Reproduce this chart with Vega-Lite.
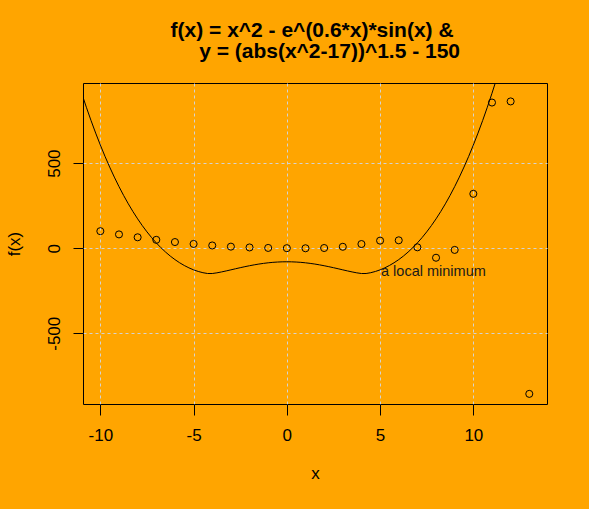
{
  "$schema": "https://vega.github.io/schema/vega-lite/v6.json",
  "width": 464,
  "height": 321,
  "autosize": {"type": "none"},
  "padding": {"left": 83, "top": 83, "right": 42, "bottom": 105},
  "background": "#FFA500",
  "title": {
    "text": ["f(x) = x^2 - e^(0.6*x)*sin(x) &\u00a0\u200b", "\u200b\u00a0\u00a0\u00a0\u00a0\u00a0y = (abs(x^2-17))^1.5 - 150"],
    "font": "Liberation Sans",
    "fontSize": 21,
    "fontWeight": "bold",
    "color": "black",
    "anchor": "middle",
    "frame": "group",
    "lineHeight": 21.5,
    "offset": 21
  },
  "datasets": {
    "pts": [
      {"x": -10, "y": 100.0}, {"x": -9, "y": 81.0}, {"x": -8, "y": 64.01}, {"x": -7, "y": 49.01},
      {"x": -6, "y": 35.99}, {"x": -5, "y": 24.95}, {"x": -4, "y": 15.93}, {"x": -3, "y": 9.02},
      {"x": -2, "y": 4.27}, {"x": -1, "y": 1.46}, {"x": 0, "y": 0}, {"x": 1, "y": -0.53},
      {"x": 2, "y": 0.98}, {"x": 3, "y": 8.15}, {"x": 4, "y": 24.34}, {"x": 5, "y": 44.26},
      {"x": 6, "y": 46.23}, {"x": 7, "y": 5.19}, {"x": 8, "y": -56.22}, {"x": 9, "y": -10.25},
      {"x": 10, "y": 319.47}, {"x": 11, "y": 856.09}, {"x": 12, "y": 862.7}, {"x": 13, "y": -856.46}
    ],
    "crv": [
      {"x": -11, "y": 910.6}, {"x": -10.75, "y": 828.52}, {"x": -10.5, "y": 750.48}, {"x": -10.25, "y": 676.39},
      {"x": -10, "y": 606.17}, {"x": -9.75, "y": 539.7}, {"x": -9.5, "y": 476.92}, {"x": -9.25, "y": 417.72},
      {"x": -9, "y": 362}, {"x": -8.75, "y": 309.69}, {"x": -8.5, "y": 260.68}, {"x": -8.25, "y": 214.89},
      {"x": -8, "y": 172.22}, {"x": -7.75, "y": 132.59}, {"x": -7.5, "y": 95.9}, {"x": -7.25, "y": 62.08},
      {"x": -7, "y": 31.02}, {"x": -6.75, "y": 2.65}, {"x": -6.5, "y": -23.12}, {"x": -6.25, "y": -46.37},
      {"x": -6, "y": -67.18}, {"x": -5.75, "y": -85.62}, {"x": -5.5, "y": -101.77}, {"x": -5.25, "y": -115.67},
      {"x": -5, "y": -127.37}, {"x": -4.75, "y": -136.88}, {"x": -4.5, "y": -144.14}, {"x": -4.25, "y": -148.9},
      {"x": -4, "y": -149}, {"x": -3.75, "y": -144.97}, {"x": -3.5, "y": -139.65}, {"x": -3.25, "y": -133.67},
      {"x": -3, "y": -127.37}, {"x": -2.75, "y": -121.01}, {"x": -2.5, "y": -114.75}, {"x": -2.25, "y": -108.75},
      {"x": -2, "y": -103.13}, {"x": -1.75, "y": -97.97}, {"x": -1.5, "y": -93.35}, {"x": -1.25, "y": -89.35},
      {"x": -1, "y": -86}, {"x": -0.75, "y": -83.36}, {"x": -0.5, "y": -81.45}, {"x": -0.25, "y": -80.29},
      {"x": 0, "y": -79.91}, {"x": 0.25, "y": -80.29}, {"x": 0.5, "y": -81.45}, {"x": 0.75, "y": -83.36},
      {"x": 1, "y": -86}, {"x": 1.25, "y": -89.35}, {"x": 1.5, "y": -93.35}, {"x": 1.75, "y": -97.97},
      {"x": 2, "y": -103.13}, {"x": 2.25, "y": -108.75}, {"x": 2.5, "y": -114.75}, {"x": 2.75, "y": -121.01},
      {"x": 3, "y": -127.37}, {"x": 3.25, "y": -133.67}, {"x": 3.5, "y": -139.65}, {"x": 3.75, "y": -144.97},
      {"x": 4, "y": -149}, {"x": 4.25, "y": -148.9}, {"x": 4.5, "y": -144.14}, {"x": 4.75, "y": -136.88},
      {"x": 5, "y": -127.37}, {"x": 5.25, "y": -115.67}, {"x": 5.5, "y": -101.77}, {"x": 5.75, "y": -85.62},
      {"x": 6, "y": -67.18}, {"x": 6.25, "y": -46.37}, {"x": 6.5, "y": -23.12}, {"x": 6.75, "y": 2.65},
      {"x": 7, "y": 31.02}, {"x": 7.25, "y": 62.08}, {"x": 7.5, "y": 95.9}, {"x": 7.75, "y": 132.59},
      {"x": 8, "y": 172.22}, {"x": 8.25, "y": 214.89}, {"x": 8.5, "y": 260.68}, {"x": 8.75, "y": 309.69},
      {"x": 9, "y": 362}, {"x": 9.25, "y": 417.72}, {"x": 9.5, "y": 476.92}, {"x": 9.75, "y": 539.7},
      {"x": 10, "y": 606.17}, {"x": 10.25, "y": 676.39}, {"x": 10.5, "y": 750.48}, {"x": 10.75, "y": 828.52},
      {"x": 11, "y": 910.6}, {"x": 11.25, "y": 996.82}, {"x": 11.5, "y": 1087.26}
    ],
    "ann": [{"x": 5.05, "y": -161, "label": "a local minimum"}]
  },
  "layer": [
    {
      "data": {"name": "crv"},
      "mark": {"type": "line", "color": "black", "strokeWidth": 1, "clip": true},
      "encoding": {
        "x": {"field": "x", "type": "quantitative", "scale": {"domain": [-10.93, 13.95], "nice": false, "zero": false},
          "axis": {"values": [-10, -5, 0, 5, 10], "title": "x", "tickSize": 11, "labelPadding": 12, "titlePadding": 22, "labelExpr": "'' + datum.value"}},
        "y": {"field": "y", "type": "quantitative", "scale": {"domain": [-916, 971], "nice": false, "zero": false},
          "axis": {"values": [-500, 0, 500], "title": "f(x)", "tickSize": 10, "labelAngle": -90, "labelAlign": "center", "labelBaseline": "bottom", "labelPadding": 10, "titlePadding": 22, "labelExpr": "'' + datum.value"}}
      }
    },
    {
      "data": {"name": "pts"},
      "mark": {"type": "point", "shape": "circle", "filled": false, "color": "black", "strokeWidth": 1, "size": 50, "opacity": 1},
      "encoding": {
        "x": {"field": "x", "type": "quantitative"},
        "y": {"field": "y", "type": "quantitative"}
      }
    },
    {
      "data": {"name": "ann"},
      "mark": {"type": "text", "align": "left", "baseline": "alphabetic", "font": "Liberation Sans", "fontSize": 14.5, "color": "#1a1a1a"},
      "encoding": {
        "x": {"field": "x", "type": "quantitative"},
        "y": {"field": "y", "type": "quantitative"},
        "text": {"field": "label"}
      }
    }
  ],
  "config": {
    "view": {"stroke": "black", "strokeWidth": 1},
    "axis": {
      "domain": false,
      "grid": true,
      "gridColor": "#d3d3d3",
      "gridDash": [3, 3],
      "gridWidth": 1,
      "tickColor": "black",
      "tickWidth": 1,
      "labelFont": "Liberation Sans",
      "labelFontSize": 17,
      "labelColor": "black",
      "titleFont": "Liberation Sans",
      "titleFontSize": 17,
      "titleFontWeight": "normal",
      "titleColor": "black"
    }
  }
}
